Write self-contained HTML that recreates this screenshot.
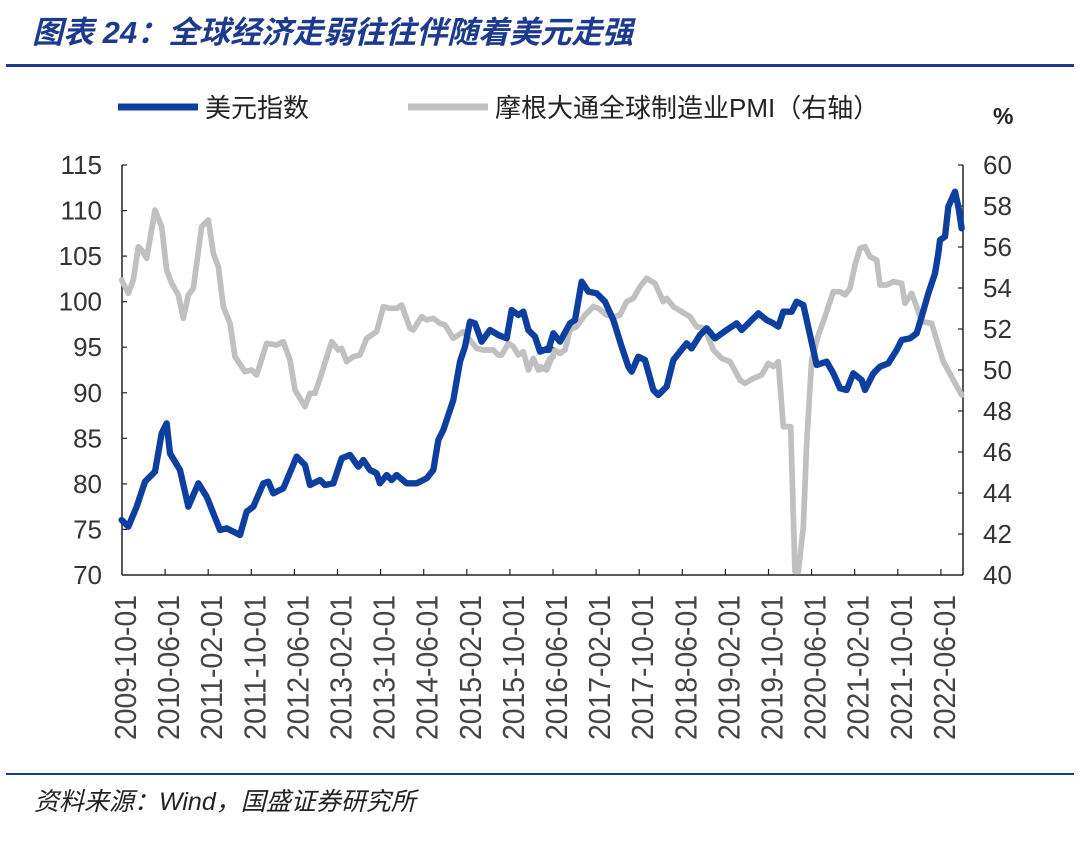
<!DOCTYPE html>
<html><head><meta charset="utf-8"><style>
body{margin:0;background:#fff;width:1080px;height:840px;overflow:hidden}
</style></head><body>
<svg width="1080" height="840" xmlns="http://www.w3.org/2000/svg" font-family="Liberation Sans, Noto Sans CJK SC, sans-serif">
<text x="32" y="43" font-size="31" font-weight="bold" font-style="italic" fill="#1c3b8e">图表 24：全球经济走弱往往伴随着美元走强</text>
<rect x="6" y="64" width="1068" height="3" fill="#1c3b8e"/>
<line x1="118" y1="107" x2="198" y2="107" stroke="#0c3fa0" stroke-width="7"/>
<text x="205" y="117" font-size="26" fill="#222">美元指数</text>
<line x1="408" y1="107" x2="488" y2="107" stroke="#c0c0c0" stroke-width="7"/>
<text x="495" y="117" font-size="26" fill="#222">摩根大通全球制造业PMI（右轴）</text>
<text x="993" y="124" font-size="23" font-weight="bold" fill="#222">%</text>
<g stroke="#222" stroke-width="1.5" fill="none">
<line x1="122" y1="165" x2="122" y2="575"/>
<line x1="963" y1="165" x2="963" y2="575"/>
<line x1="122" y1="575" x2="963" y2="575"/>
</g>
<g stroke="#222" stroke-width="1.2">
<line x1="122" y1="165" x2="127" y2="165"/><line x1="122" y1="210.6" x2="127" y2="210.6"/><line x1="122" y1="256.1" x2="127" y2="256.1"/><line x1="122" y1="301.7" x2="127" y2="301.7"/><line x1="122" y1="347.2" x2="127" y2="347.2"/><line x1="122" y1="392.8" x2="127" y2="392.8"/><line x1="122" y1="438.3" x2="127" y2="438.3"/><line x1="122" y1="483.9" x2="127" y2="483.9"/><line x1="122" y1="529.4" x2="127" y2="529.4"/>
<line x1="958" y1="165" x2="963" y2="165"/><line x1="958" y1="206" x2="963" y2="206"/><line x1="958" y1="247" x2="963" y2="247"/><line x1="958" y1="288" x2="963" y2="288"/><line x1="958" y1="329" x2="963" y2="329"/><line x1="958" y1="370" x2="963" y2="370"/><line x1="958" y1="411" x2="963" y2="411"/><line x1="958" y1="452" x2="963" y2="452"/><line x1="958" y1="493" x2="963" y2="493"/><line x1="958" y1="534" x2="963" y2="534"/>
</g>
<g stroke="#222" stroke-width="1.2" id="xt"></g>
<g font-size="26" fill="#333" text-anchor="end">
<text x="102" y="174">115</text><text x="102" y="219.6">110</text><text x="102" y="265.1">105</text><text x="102" y="310.7">100</text><text x="102" y="356.2">95</text><text x="102" y="401.8">90</text><text x="102" y="447.3">85</text><text x="102" y="492.9">80</text><text x="102" y="538.4">75</text><text x="102" y="584">70</text>
</g>
<g font-size="26" fill="#333">
<text x="983" y="174">60</text><text x="983" y="215">58</text><text x="983" y="256">56</text><text x="983" y="297">54</text><text x="983" y="338">52</text><text x="983" y="379">50</text><text x="983" y="420">48</text><text x="983" y="461">46</text><text x="983" y="502">44</text><text x="983" y="543">42</text><text x="983" y="584">40</text>
</g>
<g font-size="31" fill="#444" text-anchor="end" id="xl"></g>
<g transform="translate(120,160) scale(0.33333)" fill="none" stroke-linejoin="round" stroke-linecap="round">
<polyline stroke="#c0c0c0" stroke-width="17" points="5,360 25,400 40,360 55,260 65,270 80,295 105,150 125,200 140,330 155,370 175,405 190,475 205,405 220,385 245,200 265,180 280,280 295,320 310,440 330,490 345,590 375,635 395,630 410,645 440,550 470,555 490,545 510,600 525,690 555,740 570,700 585,700 605,640 635,545 655,570 665,565 680,605 700,590 720,585 740,535 770,515 790,440 810,445 830,445 845,435 870,505 880,510 905,470 920,480 940,475 960,490 975,495 1000,535 1030,515 1050,540 1070,565 1090,570 1120,570 1135,585 1145,585 1165,550 1180,560 1195,585 1210,575 1225,630 1240,595 1255,630 1275,625 1290,595 1300,590"/>
<polyline stroke="#0c3fa0" stroke-width="19" points="5,1080 25,1100 50,1040 75,965 105,935 125,820 140,790 150,880 180,930 205,1040 235,970 260,1010 300,1110 320,1105 360,1125 380,1055 400,1040 430,970 445,965 460,1000 490,985 530,890 555,915 570,975 600,960 615,975 640,970 665,895 690,885 715,920 730,900 750,930 770,940 780,970 800,945 815,960 830,945 860,970 890,970 920,955 940,930 955,840 970,810 1000,720 1020,605 1035,560 1050,485 1065,490 1085,545 1110,510 1135,525 1160,535 1175,450 1195,465 1210,455 1225,510 1245,530 1260,575 1285,565 1300,570"/>
</g>
<g transform="translate(540,160) scale(0.33333)" fill="none" stroke-linejoin="round" stroke-linecap="round">
<polyline stroke="#c0c0c0" stroke-width="17" points="0,620 20,630 45,570 60,580 75,570 90,510 110,500 135,465 160,440 175,445 200,465 225,470 240,465 260,425 280,415 300,380 320,355 345,370 370,425 380,415 400,440 425,455 450,470 470,500 495,505 520,570 545,595 570,605 600,660 615,670 640,655 665,645 685,610 700,620 715,605 730,800 740,800 752,800 765,1235 775,1235 790,1100 800,850 815,600 835,525 855,470 880,395 900,395 915,405 930,385 945,315 960,265 975,260 990,290 1010,300 1020,375 1040,375 1060,365 1085,370 1095,430 1115,400 1130,440 1145,485 1175,490 1190,540 1210,605 1240,660 1265,705"/>
<polyline stroke="#0c3fa0" stroke-width="19" points="0,570 25,570 40,520 60,545 90,490 105,480 125,365 145,395 170,400 195,425 220,480 245,560 265,620 275,635 295,590 315,600 340,690 355,705 380,680 400,600 420,575 440,550 455,565 480,525 500,505 525,535 560,510 590,490 605,510 625,490 655,460 680,480 700,490 715,500 730,455 755,455 770,425 790,435 810,525 830,615 860,605 880,640 900,685 920,690 940,640 965,660 975,690 1000,640 1020,620 1045,610 1070,570 1085,540 1110,535 1130,520 1145,470 1165,400 1185,340 1195,280 1200,240 1215,230 1225,140 1245,95 1255,140 1265,205"/>
</g>
<rect x="6" y="773" width="1068" height="2" fill="#1c3b8e"/>
<text x="34" y="810" font-size="25" font-style="italic" fill="#222">资料来源：Wind，国盛证券研究所</text>
</svg>
<script>
var labs=["2009-10-01","2010-06-01","2011-02-01","2011-10-01","2012-06-01","2013-02-01","2013-10-01","2014-06-01","2015-02-01","2015-10-01","2016-06-01","2017-02-01","2017-10-01","2018-06-01","2019-02-01","2019-10-01","2020-06-01","2021-02-01","2021-10-01","2022-06-01"];
var ns="http://www.w3.org/2000/svg",xl=document.getElementById("xl"),xt=document.getElementById("xt");
for(var i=0;i<labs.length;i++){var x=122+43.1*i;var t=document.createElementNS(ns,"text");t.setAttribute("transform","translate("+(x+14)+",595) rotate(-90)");t.setAttribute("textLength","145");t.setAttribute("lengthAdjust","spacingAndGlyphs");t.textContent=labs[i];xl.appendChild(t);
if(i>0){var l=document.createElementNS(ns,"line");l.setAttribute("x1",x);l.setAttribute("x2",x);l.setAttribute("y1",569);l.setAttribute("y2",575);xt.appendChild(l);}}
</script>
</body></html>
